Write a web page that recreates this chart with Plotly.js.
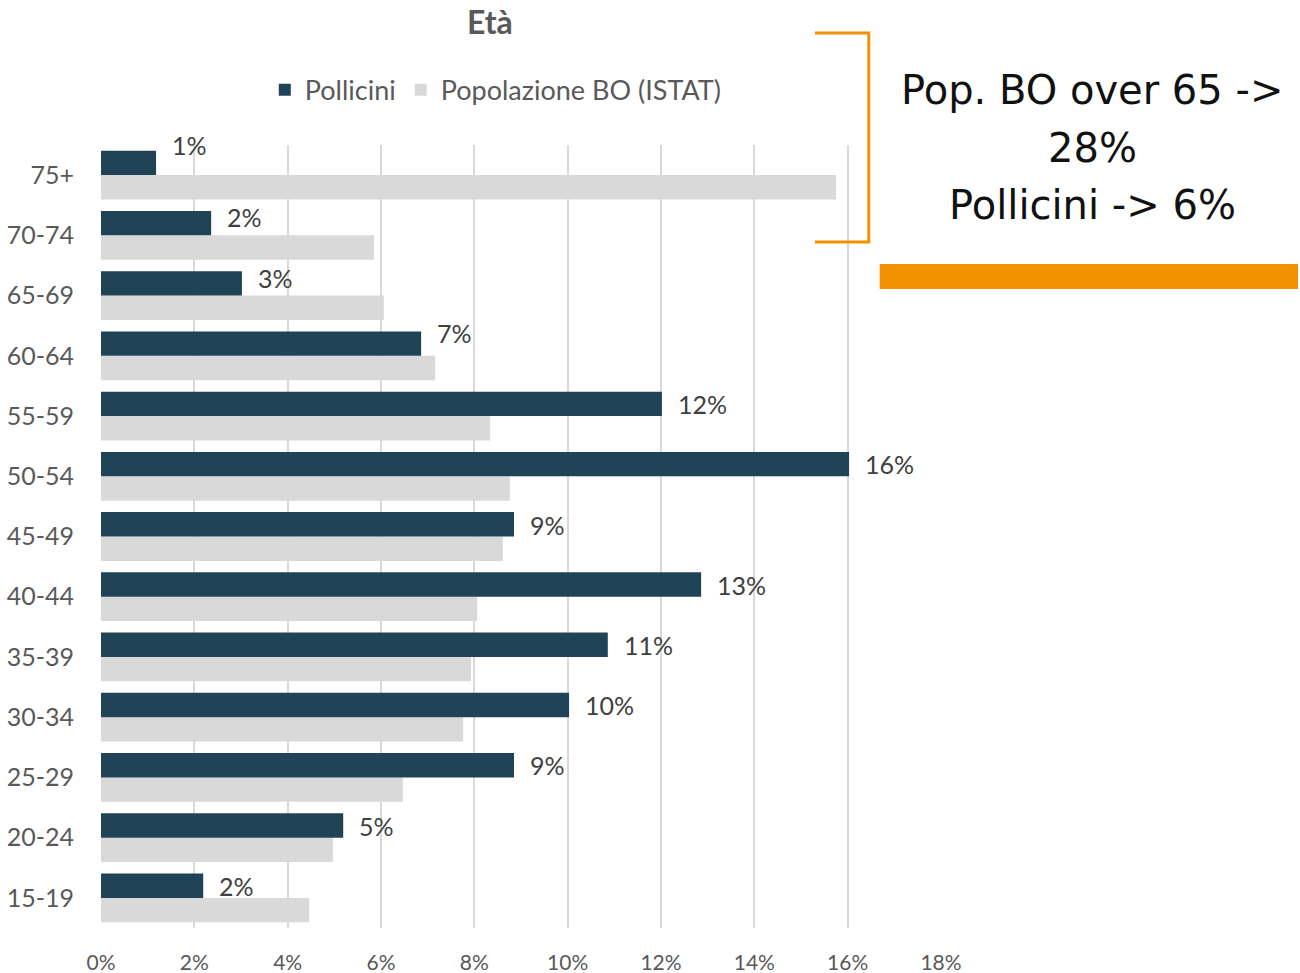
<!DOCTYPE html>
<html><head><meta charset="utf-8">
<script src="https://cdn.plot.ly/plotly-3.0.1.min.js"></script>
<style>html,body{margin:0;padding:0;background:#fff}#chart{width:1300px;height:973px}</style>
</head><body><div id="chart"></div>
<script>
// Age groups, bottom to top
const categories = ['15-19','20-24','25-29','30-34','35-39','40-44','45-49','50-54','55-59','60-64','65-69','70-74','75+'];
// Percent values
const pollicini = [2.19, 5.19, 8.85, 10.03, 10.86, 12.86, 8.85, 16.03, 12.02, 6.86, 3.02, 2.36, 1.18];
const popolazione = [4.46, 4.97, 6.47, 7.76, 7.93, 8.06, 8.61, 8.76, 8.34, 7.16, 6.06, 5.85, 15.75];
const xTicks = [0,2,4,6,8,10,12,14,16,18];
const xTickLabels = xTicks.map(v => v + '%');
const noteLines = ['Pop. BO over 65 ->', '28%', 'Pollicini -> 6%'];

// label extra vertical lift (style, px)
const labelLift = [0,0,0,0,0,0,0,0,0,11,6,6,18];
const noteY = [1.070, 0.996, 0.923];

const font = 'Lato, "Open Sans", sans-serif';
const txtColor = '#595959';

const traces = [
  {type:'bar', orientation:'h', name:'Popolazione BO (ISTAT)', y:categories, x:popolazione,
   marker:{color:'#d9d9d9'}, width:0.405, offset:-0.405, hoverinfo:'x+y'},
  {type:'bar', orientation:'h', name:'Pollicini', y:categories, x:pollicini,
   marker:{color:'#214358'}, width:0.405, offset:0.0, hoverinfo:'x+y'}
];

const annotations = pollicini.map((v,i) => ({
  x: v, y: categories[i], xref:'x', yref:'y', text: Math.round(v) + '%',
  showarrow:false, xanchor:'left', yanchor:'middle', xshift:14, yshift:12 + labelLift[i],
  font:{family:font, size:25, color:'#404040'}
}));

noteLines.forEach((t,i) => annotations.push({
  xref:'paper', yref:'paper', x:1.18, y:noteY[i], xanchor:'center', yanchor:'middle',
  text:t, showarrow:false,
  font:{family:'"DejaVu Sans", sans-serif', size:40, color:'#111111'}
}));

const shapes = [
  {type:'path', xref:'paper', yref:'paper',
   path:'M 0.85,1.143 L 0.914,1.143 L 0.914,0.876 L 0.85,0.876',
   line:{color:'#f39200', width:3}},
  {type:'rect', xref:'paper', yref:'paper', x0:0.927, x1:1.425, y0:0.816, y1:0.848,
   fillcolor:'#f39200', line:{width:0}}
];

const layout = {
  width:1300, height:973,
  margin:{l:101, r:359, t:145, b:45},
  paper_bgcolor:'#ffffff', plot_bgcolor:'#ffffff',
  title:{text:'<b>Età</b>', x:0.463, xref:'paper', y:0.977, yref:'container', yanchor:'middle',
         font:{family:font, size:32, color:txtColor}},
  showlegend:true,
  legend:{orientation:'h', x:0.47, xanchor:'center', y:1.07, yanchor:'middle', traceorder:'reversed',
          font:{family:font, size:27, color:txtColor}, itemwidth:30},
  barmode:'overlay',
  xaxis:{range:[0,18], tickvals:xTicks, ticktext:xTickLabels, showgrid:true, gridcolor:'#d9d9d9', gridwidth:2,
         zeroline:false, showline:false, ticks:'', ticklabelstandoff:20,
         tickfont:{family:font, size:21, color:txtColor}, fixedrange:true},
  yaxis:{type:'category', categoryorder:'array', categoryarray:categories, range:[-0.5,12.5],
         showgrid:false, zeroline:false, showline:false, ticks:'', ticklabelstandoff:26,
         tickfont:{family:font, size:25, color:txtColor}},
  annotations, shapes
};

Plotly.newPlot('chart', traces, layout, {displayModeBar:false, staticPlot:true});
</script></body></html>
